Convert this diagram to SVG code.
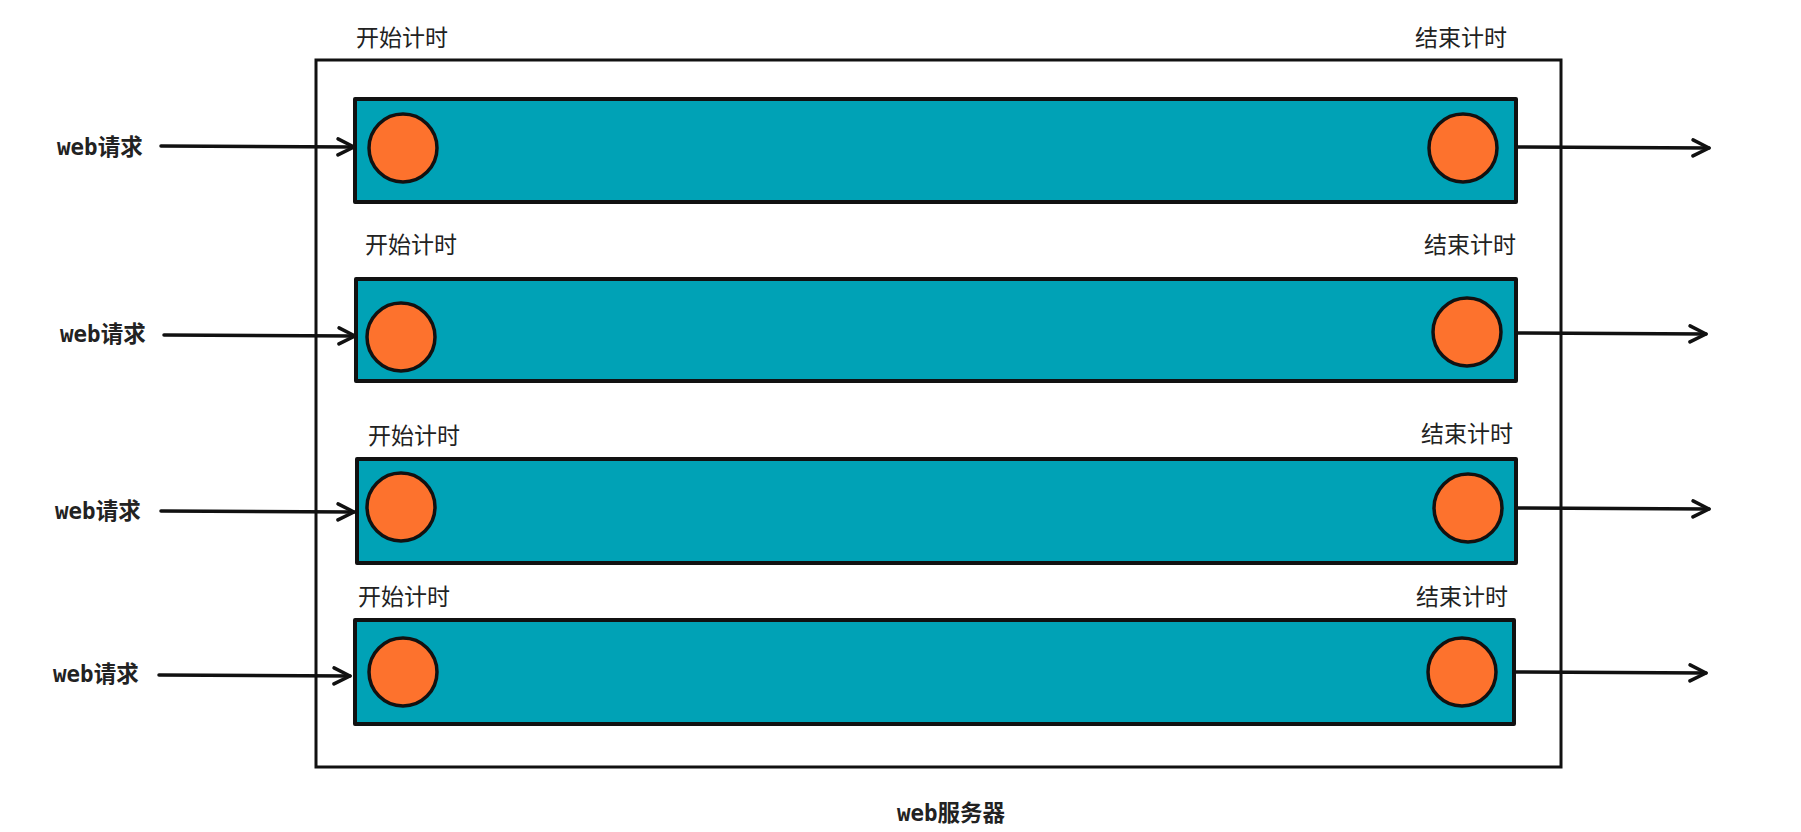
<svg xmlns="http://www.w3.org/2000/svg" width="1801" height="832" viewBox="0 0 1801 832">
<defs>
<style>
.bar{fill:#00a2b6;stroke:#111;stroke-width:4;stroke-linejoin:round}
.dot{fill:#fd722d;stroke:#111;stroke-width:3.5}
.outer{fill:none;stroke:#111;stroke-width:3}
.lbl{font-family:"Noto Sans CJK SC","Noto Sans",sans-serif;font-size:23px;fill:#222}
.req{font-family:"DejaVu Sans Mono","Noto Sans CJK SC",monospace;font-size:22.5px;font-weight:bold;fill:#222}
.conn{stroke:#111;stroke-width:3.5;fill:none;stroke-linecap:round;marker-end:url(#arr)}
</style>
<marker id="arr" viewBox="0 0 20 20" refX="18" refY="10" markerWidth="20" markerHeight="20" markerUnits="userSpaceOnUse" orient="auto">
<path d="M2,2 L18,10 L2,18" fill="none" stroke="#111" stroke-width="3.5" stroke-linecap="round" stroke-linejoin="round"/>
</marker>
</defs>
<rect width="1801" height="832" fill="#fff"/>
<g id="server">
<rect class="outer" x="316" y="60" width="1245" height="707"/>
<text class="req" x="951" y="821" text-anchor="middle">web服务器</text>
</g>
<g id="row1">
<rect class="bar" x="355" y="99" width="1161" height="103"/>
<circle class="dot" cx="403" cy="148" r="34"/>
<circle class="dot" cx="1463" cy="148" r="34"/>
<text class="lbl" x="356" y="46">开始计时</text>
<text class="lbl" x="1415" y="46">结束计时</text>
<text class="req" x="57" y="155">web请求</text>
</g>
<g id="row2">
<rect class="bar" x="356" y="279" width="1160" height="102"/>
<circle class="dot" cx="401" cy="337" r="34"/>
<circle class="dot" cx="1467" cy="332" r="34"/>
<text class="lbl" x="365" y="253">开始计时</text>
<text class="lbl" x="1424" y="253">结束计时</text>
<text class="req" x="60" y="342">web请求</text>
</g>
<g id="row3">
<rect class="bar" x="357" y="459" width="1159" height="104"/>
<circle class="dot" cx="401" cy="507" r="34"/>
<circle class="dot" cx="1468" cy="508" r="34"/>
<text class="lbl" x="368" y="444">开始计时</text>
<text class="lbl" x="1421" y="442">结束计时</text>
<text class="req" x="55" y="519">web请求</text>
</g>
<g id="row4">
<rect class="bar" x="355" y="620" width="1159" height="104"/>
<circle class="dot" cx="403" cy="672" r="34"/>
<circle class="dot" cx="1462" cy="672" r="34"/>
<text class="lbl" x="358" y="605">开始计时</text>
<text class="lbl" x="1416" y="605">结束计时</text>
<text class="req" x="53" y="682">web请求</text>
</g>
<g id="connectors">
<line class="conn" x1="161" y1="146" x2="354" y2="147"/>
<line class="conn" x1="164" y1="335" x2="355" y2="336"/>
<line class="conn" x1="161" y1="511" x2="354" y2="512"/>
<line class="conn" x1="159" y1="675" x2="350" y2="676"/>
<line class="conn" x1="1516" y1="147" x2="1709" y2="148"/>
<line class="conn" x1="1516" y1="333" x2="1706" y2="334"/>
<line class="conn" x1="1516" y1="508" x2="1709" y2="509"/>
<line class="conn" x1="1514" y1="672" x2="1706" y2="673"/>
</g>
</svg>
